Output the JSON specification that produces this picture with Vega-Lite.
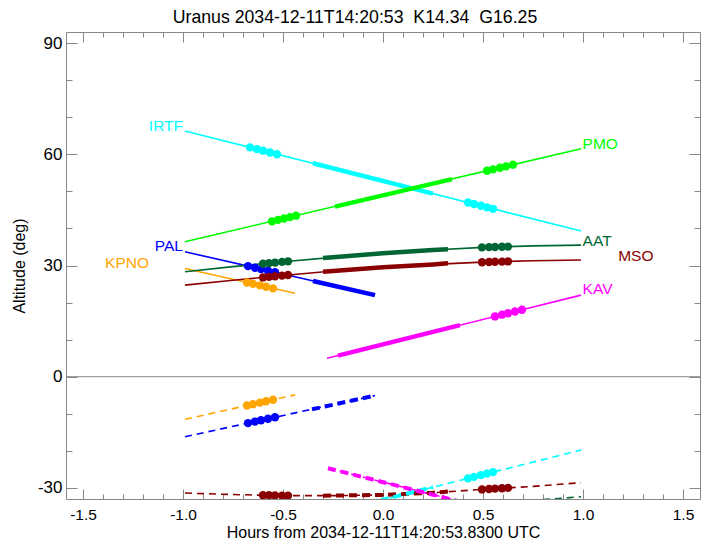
{
  "$schema": "https://vega.github.io/schema/vega-lite/v6.json",
  "width": 634,
  "height": 467,
  "autosize": "none",
  "padding": {"left": 66, "top": 32, "right": 10, "bottom": 43},
  "background": "white",
  "config": {"view": {"stroke": null}, "font": "Liberation Sans"},
  "title": {"text": "Uranus 2034-12-11T14:20:53\u00a0 K14.34\u00a0 G16.25", "font": "Liberation Sans", "fontSize": 17.7, "fontWeight": "normal", "color": "black", "anchor": "middle", "frame": "group", "dx": -28, "offset": 5},
  "datasets": {
    "zero": [{"t": 0, "alt": 0}],
    "alt": [
      {"site": "IRTF", "t": -0.99, "alt": 66.3}, {"site": "IRTF", "t": 0, "alt": 52.8}, {"site": "IRTF", "t": 0.99, "alt": 39.3},
      {"site": "PMO", "t": -0.99, "alt": 36.4}, {"site": "PMO", "t": 0, "alt": 49.0}, {"site": "PMO", "t": 0.99, "alt": 61.5},
      {"site": "PAL", "t": -0.99, "alt": 33.7}, {"site": "PAL", "t": -0.5, "alt": 27.7}, {"site": "PAL", "t": -0.04, "alt": 22.0},
      {"site": "KPNO", "t": -0.99, "alt": 29.2}, {"site": "KPNO", "t": -0.44, "alt": 22.5},
      {"site": "AAT", "t": -0.99, "alt": 28.3}, {"site": "AAT", "t": -0.75, "alt": 29.7}, {"site": "AAT", "t": -0.5, "alt": 31.0}, {"site": "AAT", "t": -0.25, "alt": 32.2}, {"site": "AAT", "t": 0, "alt": 33.3}, {"site": "AAT", "t": 0.25, "alt": 34.2}, {"site": "AAT", "t": 0.5, "alt": 34.9}, {"site": "AAT", "t": 0.75, "alt": 35.3}, {"site": "AAT", "t": 0.99, "alt": 35.5},
      {"site": "MSO", "t": -0.99, "alt": 24.7}, {"site": "MSO", "t": -0.75, "alt": 26.0}, {"site": "MSO", "t": -0.5, "alt": 27.3}, {"site": "MSO", "t": -0.25, "alt": 28.5}, {"site": "MSO", "t": 0, "alt": 29.5}, {"site": "MSO", "t": 0.25, "alt": 30.3}, {"site": "MSO", "t": 0.5, "alt": 30.9}, {"site": "MSO", "t": 0.75, "alt": 31.3}, {"site": "MSO", "t": 0.99, "alt": 31.5},
      {"site": "KAV", "t": -0.28, "alt": 5.0}, {"site": "KAV", "t": 0.99, "alt": 22.0}
    ],
    "altThick": [
      {"site": "IRTF", "t": -0.35, "alt": 57.6}, {"site": "IRTF", "t": 0.25, "alt": 49.4},
      {"site": "PMO", "t": -0.24, "alt": 45.9}, {"site": "PMO", "t": 0.345, "alt": 53.3},
      {"site": "PAL", "t": -0.35, "alt": 25.8}, {"site": "PAL", "t": -0.04, "alt": 22.0},
      {"site": "AAT", "t": -0.3, "alt": 32.0}, {"site": "AAT", "t": -0.25, "alt": 32.2}, {"site": "AAT", "t": 0, "alt": 33.3}, {"site": "AAT", "t": 0.25, "alt": 34.2}, {"site": "AAT", "t": 0.325, "alt": 34.4},
      {"site": "MSO", "t": -0.3, "alt": 28.3}, {"site": "MSO", "t": -0.25, "alt": 28.5}, {"site": "MSO", "t": 0, "alt": 29.5}, {"site": "MSO", "t": 0.25, "alt": 30.3}, {"site": "MSO", "t": 0.325, "alt": 30.6},
      {"site": "KAV", "t": -0.225, "alt": 5.7}, {"site": "KAV", "t": 0.385, "alt": 13.9}
    ],
    "sun": [
      {"site": "KPNO", "t": -0.99, "alt": -11.5}, {"site": "KPNO", "t": -0.44, "alt": -4.9},
      {"site": "PAL", "t": -0.99, "alt": -16.2}, {"site": "PAL", "t": -0.04, "alt": -5.1},
      {"site": "MSO", "t": -0.99, "alt": -31.4}, {"site": "MSO", "t": -0.75, "alt": -31.8}, {"site": "MSO", "t": -0.5, "alt": -32.1}, {"site": "MSO", "t": -0.25, "alt": -32.1}, {"site": "MSO", "t": 0, "alt": -31.9}, {"site": "MSO", "t": 0.25, "alt": -31.3}, {"site": "MSO", "t": 0.5, "alt": -30.4}, {"site": "MSO", "t": 0.75, "alt": -29.6}, {"site": "MSO", "t": 0.99, "alt": -28.6},
      {"site": "IRTF", "t": -0.2, "alt": -35.9}, {"site": "IRTF", "t": 0.99, "alt": -19.8},
      {"site": "KAV", "t": -0.275, "alt": -24.7}, {"site": "KAV", "t": 0.99, "alt": -41.9},
      {"site": "AAT", "t": 0.5, "alt": -34.4}, {"site": "AAT", "t": 0.99, "alt": -32.4}
    ],
    "sunThick": [
      {"site": "PAL", "t": -0.355, "alt": -8.8}, {"site": "PAL", "t": -0.04, "alt": -5.1},
      {"site": "MSO", "t": -0.3, "alt": -32.1}, {"site": "MSO", "t": 0, "alt": -31.9}, {"site": "MSO", "t": 0.25, "alt": -31.3}, {"site": "MSO", "t": 0.325, "alt": -31.0},
      {"site": "IRTF", "t": -0.2, "alt": -35.9}, {"site": "IRTF", "t": 0.25, "alt": -29.8},
      {"site": "KAV", "t": -0.275, "alt": -24.7}, {"site": "KAV", "t": 0.385, "alt": -33.7}
    ],
    "dots": [
      {"site": "IRTF", "t": -0.665, "alt": 61.87}, {"site": "IRTF", "t": -0.63, "alt": 61.39}, {"site": "IRTF", "t": -0.6, "alt": 60.98}, {"site": "IRTF", "t": -0.565, "alt": 60.5}, {"site": "IRTF", "t": -0.53, "alt": 60.03},
      {"site": "IRTF", "t": 0.425, "alt": 47.0}, {"site": "IRTF", "t": 0.455, "alt": 46.59}, {"site": "IRTF", "t": 0.49, "alt": 46.11}, {"site": "IRTF", "t": 0.52, "alt": 45.7}, {"site": "IRTF", "t": 0.55, "alt": 45.29},
      {"site": "IRTF", "t": 0.425, "alt": -27.43}, {"site": "IRTF", "t": 0.455, "alt": -27.02}, {"site": "IRTF", "t": 0.49, "alt": -26.55}, {"site": "IRTF", "t": 0.52, "alt": -26.15}, {"site": "IRTF", "t": 0.55, "alt": -25.74},
      {"site": "PMO", "t": -0.555, "alt": 41.92}, {"site": "PMO", "t": -0.525, "alt": 42.3}, {"site": "PMO", "t": -0.495, "alt": 42.68}, {"site": "PMO", "t": -0.465, "alt": 43.06}, {"site": "PMO", "t": -0.435, "alt": 43.44},
      {"site": "PMO", "t": 0.52, "alt": 55.55}, {"site": "PMO", "t": 0.55, "alt": 55.93}, {"site": "PMO", "t": 0.585, "alt": 56.37}, {"site": "PMO", "t": 0.615, "alt": 56.75}, {"site": "PMO", "t": 0.65, "alt": 57.2},
      {"site": "PAL", "t": -0.675, "alt": 29.83}, {"site": "PAL", "t": -0.64, "alt": 29.4}, {"site": "PAL", "t": -0.61, "alt": 29.03}, {"site": "PAL", "t": -0.575, "alt": 28.6}, {"site": "PAL", "t": -0.54, "alt": 28.17},
      {"site": "PAL", "t": -0.675, "alt": -12.52}, {"site": "PAL", "t": -0.64, "alt": -12.11}, {"site": "PAL", "t": -0.61, "alt": -11.76}, {"site": "PAL", "t": -0.575, "alt": -11.35}, {"site": "PAL", "t": -0.54, "alt": -10.94},
      {"site": "KPNO", "t": -0.68, "alt": 25.42}, {"site": "KPNO", "t": -0.65, "alt": 25.05}, {"site": "KPNO", "t": -0.615, "alt": 24.63}, {"site": "KPNO", "t": -0.585, "alt": 24.26}, {"site": "KPNO", "t": -0.55, "alt": 23.83},
      {"site": "KPNO", "t": -0.68, "alt": -7.78}, {"site": "KPNO", "t": -0.65, "alt": -7.42}, {"site": "KPNO", "t": -0.615, "alt": -7.0}, {"site": "KPNO", "t": -0.585, "alt": -6.64}, {"site": "KPNO", "t": -0.55, "alt": -6.22},
      {"site": "AAT", "t": -0.6, "alt": 30.48}, {"site": "AAT", "t": -0.57, "alt": 30.64}, {"site": "AAT", "t": -0.54, "alt": 30.79}, {"site": "AAT", "t": -0.505, "alt": 30.97}, {"site": "AAT", "t": -0.475, "alt": 31.13},
      {"site": "AAT", "t": 0.495, "alt": 34.89}, {"site": "AAT", "t": 0.53, "alt": 34.95}, {"site": "AAT", "t": 0.56, "alt": 35.0}, {"site": "AAT", "t": 0.595, "alt": 35.05}, {"site": "AAT", "t": 0.625, "alt": 35.1},
      {"site": "MSO", "t": -0.6, "alt": 26.78}, {"site": "MSO", "t": -0.57, "alt": 26.94}, {"site": "MSO", "t": -0.54, "alt": 27.09}, {"site": "MSO", "t": -0.505, "alt": 27.27}, {"site": "MSO", "t": -0.475, "alt": 27.43},
      {"site": "MSO", "t": 0.495, "alt": 30.89}, {"site": "MSO", "t": 0.53, "alt": 30.95}, {"site": "MSO", "t": 0.56, "alt": 31.0}, {"site": "MSO", "t": 0.595, "alt": 31.05}, {"site": "MSO", "t": 0.625, "alt": 31.1},
      {"site": "MSO", "t": -0.6, "alt": -31.98}, {"site": "MSO", "t": -0.57, "alt": -32.0}, {"site": "MSO", "t": -0.54, "alt": -32.05}, {"site": "MSO", "t": -0.505, "alt": -32.08}, {"site": "MSO", "t": -0.475, "alt": -32.1},
      {"site": "MSO", "t": 0.495, "alt": -30.42}, {"site": "MSO", "t": 0.53, "alt": -30.3}, {"site": "MSO", "t": 0.56, "alt": -30.21}, {"site": "MSO", "t": 0.595, "alt": -30.1}, {"site": "MSO", "t": 0.625, "alt": -30.0},
      {"site": "KAV", "t": 0.56, "alt": 16.26}, {"site": "KAV", "t": 0.595, "alt": 16.73}, {"site": "KAV", "t": 0.625, "alt": 17.13}, {"site": "KAV", "t": 0.66, "alt": 17.6}, {"site": "KAV", "t": 0.695, "alt": 18.07}
    ],
    "labels": [
      {"site": "IRTF", "t": -1.0, "alt": 66.3},
      {"site": "PAL", "t": -1.0, "alt": 33.9},
      {"site": "KPNO", "t": -1.17, "alt": 29.4},
      {"site": "PMO", "t": 0.998, "alt": 61.3},
      {"site": "AAT", "t": 0.998, "alt": 35.3},
      {"site": "MSO", "t": 1.176, "alt": 31.3},
      {"site": "KAV", "t": 0.998, "alt": 22.2}
    ]
  },
  "resolve": {"axis": {"x": "independent", "y": "independent"}},
  "encoding": {
    "x": {"field": "t", "type": "quantitative", "scale": {"domain": [-1.585, 1.585], "nice": false, "zero": false}, "axis": null},
    "y": {"field": "alt", "type": "quantitative", "scale": {"domain": [-33, 93], "nice": false, "zero": false}, "axis": null},
    "color": {"field": "site", "type": "nominal", "scale": {"domain": ["IRTF", "PMO", "PAL", "KPNO", "AAT", "MSO", "KAV"], "range": ["#00ffff", "#00ff00", "#0000ff", "#ffa500", "#006633", "#8b0000", "#ff00ff"]}, "legend": null}
  },
  "layer": [
    {
      "data": {"name": "zero"},
      "mark": {"type": "point", "opacity": 0},
      "encoding": {
        "color": {"value": "#ffffff"},
        "x": {"field": "t", "type": "quantitative", "scale": {"domain": [-1.585, 1.585], "nice": false, "zero": false},
          "axis": {"orient": "bottom", "values": [-1.5, -1.4, -1.3, -1.2, -1.1, -1.0, -0.9, -0.8, -0.7, -0.6, -0.5, -0.4, -0.3, -0.2, -0.1, 0, 0.1, 0.2, 0.3, 0.4, 0.5, 0.6, 0.7, 0.8, 0.9, 1.0, 1.1, 1.2, 1.3, 1.4, 1.5],
            "tickSize": {"condition": {"test": "abs(datum.value*2-round(datum.value*2))<0.001", "value": -10}, "value": -5},
            "labelExpr": "abs(datum.value*2-round(datum.value*2))<0.001 ? (datum.value < 0 ? '-' : '') + format(abs(datum.value), '.1f') : ''",
            "title": "Hours from 2034-12-11T14:20:53.8300 UTC", "titleFont": "Liberation Sans", "titleFontSize": 16, "titleFontWeight": "normal", "titleColor": "black", "titlePadding": -3,
            "labelFont": "Liberation Sans", "labelFontSize": 15.5, "labelColor": "black", "labelPadding": 18, "labelFlush": false, "labelOverlap": false, "labelBound": false,
            "domainColor": "#888888", "tickColor": "#888888", "grid": false}},
        "y": {"field": "alt", "type": "quantitative", "scale": {"domain": [-33, 93], "nice": false, "zero": false},
          "axis": {"orient": "left", "values": [-30, -20, -10, 0, 10, 20, 30, 40, 50, 60, 70, 80, 90],
            "tickSize": {"condition": {"test": "datum.value % 30 == 0", "value": -11}, "value": -6},
            "labelExpr": "datum.value % 30 == 0 ? '' + datum.value : ''",
            "title": "Altitude (deg)", "titleFont": "Liberation Sans", "titleFontSize": 16, "titleFontWeight": "normal", "titleColor": "black", "titlePadding": 10,
            "labelFont": "Liberation Sans", "labelFontSize": 17, "labelColor": "black", "labelPadding": 15, "labelFlush": false, "labelOverlap": false, "labelBound": false,
            "domainColor": "#888888", "tickColor": "#888888", "grid": false}}
      }
    },
    {
      "data": {"name": "zero"},
      "mark": {"type": "point", "opacity": 0},
      "encoding": {
        "color": {"value": "#ffffff"},
        "x": {"field": "t", "type": "quantitative", "scale": {"domain": [-1.585, 1.585], "nice": false, "zero": false},
          "axis": {"orient": "top", "values": [-1.5, -1.4, -1.3, -1.2, -1.1, -1.0, -0.9, -0.8, -0.7, -0.6, -0.5, -0.4, -0.3, -0.2, -0.1, 0, 0.1, 0.2, 0.3, 0.4, 0.5, 0.6, 0.7, 0.8, 0.9, 1.0, 1.1, 1.2, 1.3, 1.4, 1.5],
            "tickSize": {"condition": {"test": "abs(datum.value*2-round(datum.value*2))<0.001", "value": -10}, "value": -5},
            "labels": false, "title": null, "domainColor": "#888888", "tickColor": "#888888", "grid": false}},
        "y": {"field": "alt", "type": "quantitative", "scale": {"domain": [-33, 93], "nice": false, "zero": false},
          "axis": {"orient": "right", "values": [-30, -20, -10, 0, 10, 20, 30, 40, 50, 60, 70, 80, 90],
            "tickSize": {"condition": {"test": "datum.value % 30 == 0", "value": -11}, "value": -6},
            "labels": false, "title": null, "domainColor": "#888888", "tickColor": "#888888", "grid": false}}
      }
    },
    {
      "data": {"name": "zero"},
      "mark": {"type": "rule", "color": "#888888", "strokeWidth": 1},
      "encoding": {"x": null, "color": {"value": "#888888"}}
    },
    {
      "data": {"name": "sun"},
      "mark": {"type": "line", "strokeWidth": 1.6, "strokeDash": [7, 5], "clip": true},
      "encoding": {"detail": {"field": "site"}}
    },
    {
      "data": {"name": "sunThick"},
      "mark": {"type": "line", "strokeWidth": 4, "strokeDash": [8, 5], "clip": true},
      "encoding": {"detail": {"field": "site"}}
    },
    {
      "data": {"name": "alt"},
      "mark": {"type": "line", "strokeWidth": 1.6, "clip": true},
      "encoding": {"detail": {"field": "site"}}
    },
    {
      "data": {"name": "altThick"},
      "mark": {"type": "line", "strokeWidth": 4.5, "clip": true},
      "encoding": {"detail": {"field": "site"}}
    },
    {
      "data": {"name": "dots"},
      "mark": {"type": "point", "filled": true, "size": 70, "opacity": 1, "strokeWidth": 0, "clip": true}
    },
    {
      "data": {"name": "labels"},
      "transform": [{"filter": {"field": "site", "oneOf": ["IRTF", "PAL", "KPNO"]}}],
      "mark": {"type": "text", "align": "right", "baseline": "alphabetic", "font": "Liberation Sans", "fontSize": 15.5},
      "encoding": {"text": {"field": "site"}}
    },
    {
      "data": {"name": "labels"},
      "transform": [{"filter": {"field": "site", "oneOf": ["PMO", "AAT", "MSO", "KAV"]}}],
      "mark": {"type": "text", "align": "left", "baseline": "alphabetic", "font": "Liberation Sans", "fontSize": 15.5},
      "encoding": {"text": {"field": "site"}}
    }
  ]
}
